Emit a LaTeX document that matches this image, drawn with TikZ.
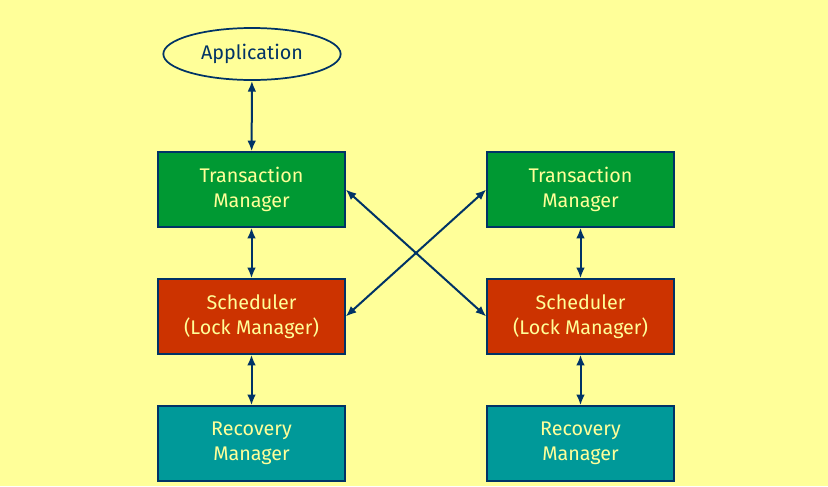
\documentclass[tikz,border=0pt]{standalone}
\usepackage{fontspec}
\setmainfont{Fira Sans}
\usepackage{xcolor}
\usetikzlibrary{
    arrows.meta,
    shapes.geometric
}
\definecolor{bgyellow}{HTML}{FFFF99}
\definecolor{edgeblue}{HTML}{003366}
\definecolor{tmgreen}{HTML}{009933}
\definecolor{schedred}{HTML}{CC3300}
\definecolor{recteal}{HTML}{009999}

\tikzset{
    box/.style={draw=edgeblue, line width=1.3pt, minimum width=140pt, minimum height=56pt,
        align=center, text=bgyellow, font=\fontsize{14.8}{19}\selectfont},
    link/.style={draw=edgeblue, line width=1.5pt, {Latex[length=8pt,width=6.5pt]}-{Latex[length=8pt,width=6.5pt]}}
}

\begin{document}
\begin{tikzpicture}[x=0.75pt,y=-0.75pt]
    % Background
    \fill[bgyellow] (0,0) rectangle (828,486);
    \useasboundingbox (0,0) rectangle (828,486);

    % Application
    \node[ellipse, draw=edgeblue, line width=1.3pt, minimum width=133pt, minimum height=39pt,
        text=edgeblue, font=\fontsize{14.8}{19}\selectfont] (app) at (252,54) {Application};

    % Left site
    \node[box, fill=tmgreen] (tm1) at (251.5,189.5) {Transaction\\Manager};
    \node[box, fill=schedred] (sch1) at (251.5,316.5) {Scheduler\\(Lock Manager)};
    \node[box, fill=recteal] (rm1) at (251.5,443.5) {Recovery\\Manager};

    % Right site
    \node[box, fill=tmgreen] (tm2) at (580.5,189.5) {Transaction\\Manager};
    \node[box, fill=schedred] (sch2) at (580.5,316.5) {Scheduler\\(Lock Manager)};
    \node[box, fill=recteal] (rm2) at (580.5,443.5) {Recovery\\Manager};

    % Vertical links
    \draw[link] (app) -- (tm1);
    \draw[link] (tm1) -- (sch1);
    \draw[link] (sch1) -- (rm1);
    \draw[link] (tm2) -- (sch2);
    \draw[link] (sch2) -- (rm2);

    % Cross links
    \draw[link] (tm1.east) -- (sch2.west);
    \draw[link] (sch1.east) -- (tm2.west);
\end{tikzpicture}
\end{document}
